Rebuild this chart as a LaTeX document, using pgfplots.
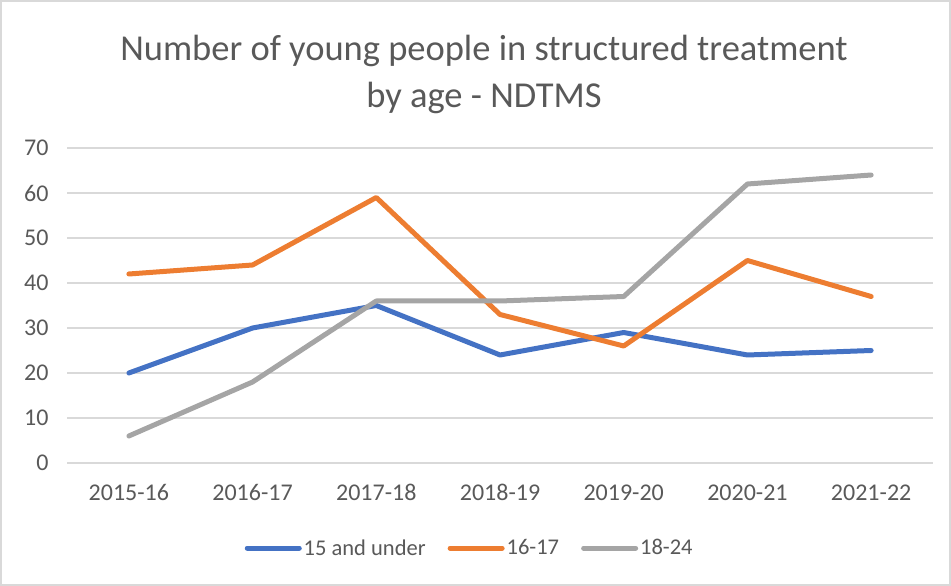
\documentclass[border=0pt]{standalone}
\usepackage{fontspec}
\setmainfont{Carlito}
\usepackage{pgfplots}
\pgfplotsset{compat=1.18}
\definecolor{sblue}{HTML}{4472C4}
\definecolor{sorange}{HTML}{ED7D31}
\definecolor{sgray}{HTML}{A5A5A5}
\definecolor{txt}{HTML}{595959}
\definecolor{gridc}{HTML}{D9D9D9}

\begin{document}
\begin{tikzpicture}[x=1bp,y=1bp]
\useasboundingbox (0,0) rectangle (951,586);
\draw[gridc, line width=1.5bp] (1,1) rectangle (950,585);
\node[text=txt, align=center, font=\fontsize{36.5bp}{47bp}\selectfont] at (484,512)
  {Number of young people in structured treatment\\by age - NDTMS};
\begin{axis}[
    at={(67bp,123bp)}, anchor=south west,
    scale only axis, width=866bp, height=315bp,
    xmin=-0.5, xmax=6.5, ymin=0, ymax=70,
    ytick={0,10,...,70},
    xtick={0,...,6},
    xticklabels={2015-16,2016-17,2017-18,2018-19,2019-20,2020-21,2021-22},
    axis line style={draw=none},
    major tick length=0pt,
    ymajorgrids, grid style={gridc, line width=1.5bp},
    tick label style={font=\fontsize{24bp}{28bp}\selectfont, text=txt},
    /pgf/number format/assume math mode=true,
    yticklabel style={xshift=-15bp},
    xticklabel style={yshift=-18bp},
    clip=false,
    legend columns=3,
    legend style={at={(0.465,-0.27)}, anchor=center, draw=none,
      font=\fontsize{22.5bp}{26bp}\selectfont, text=txt,
      /tikz/every even column/.append style={column sep=20bp}},
    legend image code/.code={\draw[#1, line width=5bp, line cap=round] (0bp,0bp) -- (52bp,0bp);},
    every axis plot/.append style={line width=5bp, line join=round, line cap=round, mark=none},
  ]
\addplot[sblue] coordinates {(0,20) (1,30) (2,35) (3,24) (4,29) (5,24) (6,25)};
\addlegendentry{15 and under}
\addplot[sorange] coordinates {(0,42) (1,44) (2,59) (3,33) (4,26) (5,45) (6,37)};
\addlegendentry{16-17}
\addplot[sgray] coordinates {(0,6) (1,18) (2,36) (3,36) (4,37) (5,62) (6,64)};
\addlegendentry{18-24}
\end{axis}
\end{tikzpicture}
\end{document}
